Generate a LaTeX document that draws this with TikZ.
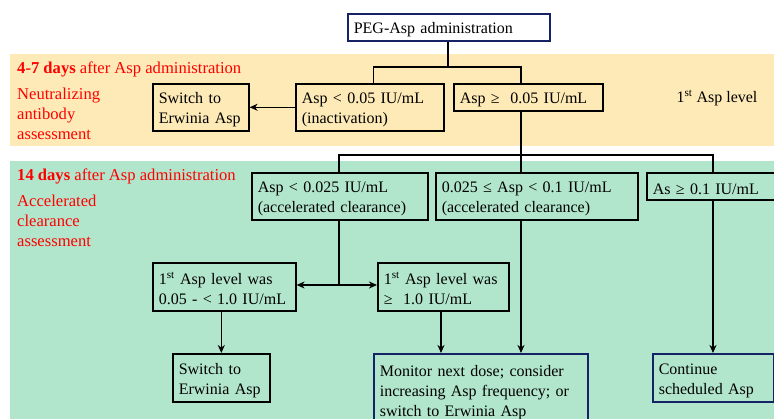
\documentclass[tikz,border=0pt]{standalone}
\usepackage{fontspec}
\setmainfont{Liberation Serif}
\usetikzlibrary{arrows.meta,positioning}
\definecolor{bandY}{RGB}{253,234,182}
\definecolor{bandG}{RGB}{178,230,204}
\definecolor{navy}{RGB}{22,34,102}
\definecolor{redtxt}{RGB}{255,0,0}

\begin{document}
\begin{tikzpicture}[x=1pt,y=-1pt,
  every node/.style={font=\fontsize{16}{20}\selectfont},
  flow/.style={draw=black, line width=1.6pt, anchor=north west, inner xsep=6pt, inner ysep=0pt, align=left,
    execute at begin node={\rule{0pt}{16pt}}},
  navybox/.style={flow, draw=navy},
  note/.style={text=redtxt, anchor=west, inner sep=0pt, align=left, font=\fontsize{16.6}{20}\selectfont},
  conn/.style={line width=1.3pt},
  arr/.style={conn, -{Stealth[length=8pt,width=7pt,inset=2.5pt]}}]
\useasboundingbox (0,0) rectangle (774,419);
\clip (0,0) rectangle (774,419);
\fill [bandY] (10,54) rectangle (780,146);
\fill [bandG] (10,161) rectangle (780,425);
\node [note] (d47) at (17,69) {\textbf{4-7 days} after Asp administration};
\node [note, anchor=north west] (nab) at (17,88) {Neutralizing\\antibody\\assessment};
\node [anchor=center, inner sep=0pt] (first) at (717,98) {1\textsuperscript{st} Asp level};
\node [note] (d14) at (17,176) {\textbf{14 days} after Asp administration};
\node [note, anchor=north west] (acl) at (17,195) {Accelerated\\clearance\\assessment};
\node [navybox, text width=190pt, minimum height=27pt] (peg) at (347,13) {PEG-Asp administration};
\node [flow, text width=84pt, minimum height=47pt] (swA) at (152,83) {Switch to\\Erwinia Asp};
\node [flow, text width=136pt, minimum height=47pt] (low) at (295,83) {Asp < 0.05 IU/mL\\(inactivation)};
\node [flow, text width=137pt, minimum height=27pt] (high) at (453,83) {Asp ≥ \ 0.05 IU/mL};
\node [flow, text width=164pt, minimum height=47pt] (acA) at (251,172) {Asp < 0.025 IU/mL\\(accelerated clearance)};
\node [flow, text width=190pt, minimum height=47pt] (acB) at (435,172) {0.025 ≤ Asp < 0.1 IU/mL\\(accelerated clearance)};
\node [flow, text width=142pt, minimum height=27pt] (acC) at (646,172) {As ≥ 0.1 IU/mL};
\node [flow, text width=131pt, minimum height=48pt] (lvA) at (152,262) {1\textsuperscript{st} Asp level was\\0.05 - < 1.0 IU/mL};
\node [flow, text width=119pt, minimum height=48pt] (lvB) at (377,262) {1\textsuperscript{st} Asp level was\\≥ \ 1.0 IU/mL};
\node [flow, text width=85pt, minimum height=48pt] (swB) at (172,353) {Switch to\\Erwinia Asp};
\node [navybox, text width=202pt, minimum height=72pt] (mon) at (373,353) {Monitor next dose; consider\\increasing Asp frequency; or\\switch to Erwinia Asp};
\node [navybox, text width=109pt, minimum height=48pt] (cont) at (652,353) {Continue\\scheduled Asp};
\coordinate (j1) at (448,67);
\coordinate (j2) at (521,155);
\coordinate (j3) at (339,285);
\draw [conn] (peg.south -| j1) -- (j1);
\draw [conn] ([xshift=4pt]low.north) |- (j1) -| (high.north -| j2);
\draw [arr] (low.west |- swA.east) -- (swA.east);
\draw [conn] (high.south -| j2) -- (j2);
\draw [conn] (acA.north -| j3) |- (j2) -| (acC.north -| 713,0);
\draw [conn] (j2) -- (acB.north -| j2);
\draw [conn] (acA.south -| j3) -- (j3);
\draw [arr] (j3) -- (lvA.east |- j3);
\draw [arr] (j3) -- (lvB.west |- j3);
\draw [arr] (swB.north |- lvA.south) -- (swB.north);
\draw [arr] (lvB.south -| 441,0) -- (mon.north -| 441,0);
\draw [arr] (acB.south -| j2) -- (mon.north -| j2);
\draw [arr] (acC.south -| 713,0) -- (cont.north -| 713,0);
\end{tikzpicture}
\end{document}
